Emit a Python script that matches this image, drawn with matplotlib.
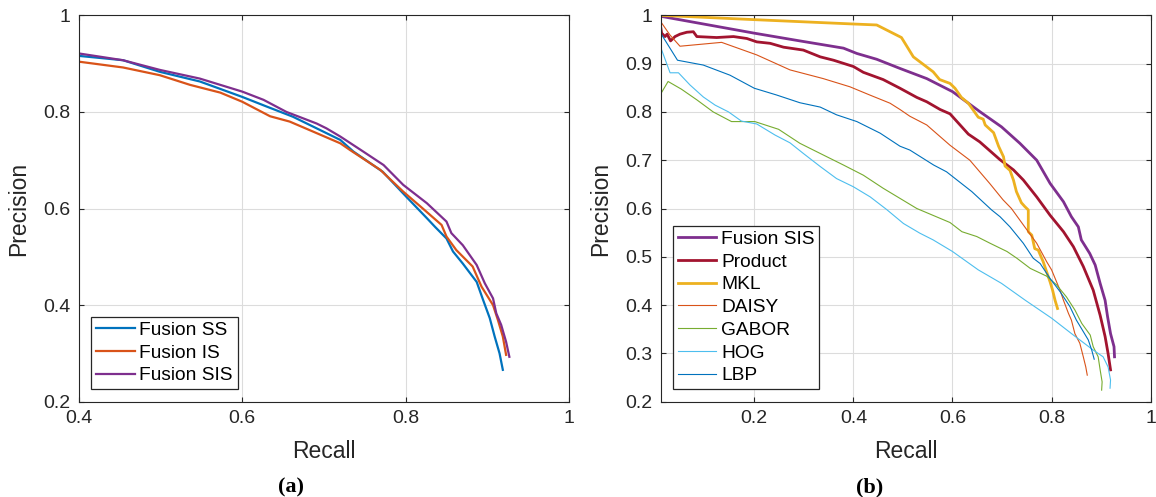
import matplotlib
matplotlib.use("Agg")
import matplotlib.pyplot as plt

# ---- panel (a) data ----
ss_recall = [0.400, 0.454, 0.499, 0.548, 0.600, 0.630, 0.662, 0.691, 0.720, 0.736, 0.772,
             0.801, 0.826, 0.836, 0.850, 0.858, 0.870, 0.887, 0.895, 0.903, 0.909, 0.915, 0.919]
ss_prec = [0.916, 0.907, 0.883, 0.863, 0.831, 0.811, 0.790, 0.766, 0.742, 0.718, 0.676,
           0.624, 0.580, 0.562, 0.538, 0.511, 0.486, 0.448, 0.410, 0.373, 0.335, 0.300, 0.266]

is_recall = [0.400, 0.454, 0.499, 0.536, 0.573, 0.600, 0.634, 0.658, 0.687, 0.720, 0.732,
             0.769, 0.797, 0.821, 0.844, 0.850, 0.862, 0.882, 0.893, 0.907, 0.913, 0.919, 0.923]
is_prec = [0.904, 0.892, 0.876, 0.856, 0.840, 0.821, 0.791, 0.780, 0.759, 0.735, 0.721,
           0.680, 0.635, 0.600, 0.566, 0.542, 0.514, 0.480, 0.438, 0.400, 0.369, 0.335, 0.297]

sis_recall = [0.400, 0.454, 0.499, 0.548, 0.600, 0.626, 0.654, 0.691, 0.703, 0.720, 0.748, 0.773,
              0.797, 0.826, 0.850, 0.856, 0.870, 0.887, 0.897, 0.907, 0.911, 0.917, 0.923, 0.927]
sis_prec = [0.921, 0.907, 0.887, 0.869, 0.842, 0.825, 0.800, 0.776, 0.766, 0.749, 0.718, 0.690,
            0.649, 0.611, 0.573, 0.549, 0.524, 0.483, 0.445, 0.414, 0.383, 0.359, 0.324, 0.293]

# ---- panel (b) data ----
b_sis_recall = [0.011, 0.200, 0.292, 0.380, 0.407, 0.447, 0.494, 0.548, 0.600, 0.656, 0.699, 0.736, 0.770,
                0.797, 0.824, 0.840, 0.854, 0.860, 0.877, 0.888, 0.898, 0.908, 0.913, 0.919, 0.926, 0.927]
b_sis_prec = [0.998, 0.963, 0.947, 0.932, 0.921, 0.909, 0.890, 0.869, 0.842, 0.800, 0.769, 0.735, 0.700,
              0.652, 0.614, 0.583, 0.562, 0.535, 0.507, 0.483, 0.445, 0.410, 0.376, 0.341, 0.314, 0.293]

prod_recall = [0.011, 0.013, 0.020, 0.024, 0.031, 0.040, 0.050, 0.064, 0.077, 0.084, 0.124, 0.158, 0.185,
               0.205, 0.232, 0.259, 0.299, 0.333, 0.360, 0.400, 0.420, 0.460, 0.494, 0.528, 0.548, 0.575,
               0.595, 0.632, 0.655, 0.696, 0.723, 0.743, 0.770, 0.797, 0.824, 0.844, 0.864, 0.884, 0.898,
               0.908, 0.914, 0.919]
prod_prec = [0.976, 0.963, 0.956, 0.961, 0.947, 0.956, 0.961, 0.965, 0.966, 0.956, 0.954, 0.956, 0.952,
             0.945, 0.942, 0.934, 0.928, 0.914, 0.907, 0.894, 0.882, 0.867, 0.849, 0.830, 0.821, 0.805,
             0.796, 0.754, 0.738, 0.701, 0.680, 0.659, 0.624, 0.586, 0.552, 0.521, 0.480, 0.431, 0.379,
             0.335, 0.300, 0.266]

mkl_recall = [0.011, 0.200, 0.400, 0.447, 0.497, 0.521, 0.561, 0.574, 0.595, 0.605, 0.618, 0.632, 0.652,
              0.662, 0.666, 0.683, 0.693, 0.703, 0.706, 0.716, 0.723, 0.729, 0.739, 0.746, 0.753, 0.753,
              0.760, 0.766, 0.773, 0.783, 0.790, 0.797, 0.802, 0.807, 0.812]
mkl_prec = [1.000, 0.991, 0.982, 0.980, 0.954, 0.914, 0.883, 0.867, 0.859, 0.849, 0.830, 0.818, 0.789,
            0.785, 0.773, 0.757, 0.729, 0.707, 0.688, 0.679, 0.659, 0.635, 0.612, 0.604, 0.597, 0.552,
            0.545, 0.517, 0.514, 0.490, 0.469, 0.448, 0.431, 0.410, 0.393]

daisy_recall = [0.011, 0.030, 0.050, 0.134, 0.205, 0.272, 0.339, 0.393, 0.433, 0.474, 0.494, 0.514, 0.548,
                0.595, 0.635, 0.675, 0.702, 0.719, 0.743, 0.770, 0.790, 0.800, 0.817, 0.824, 0.834, 0.840,
                0.847, 0.857, 0.864, 0.869, 0.872]
daisy_prec = [0.987, 0.959, 0.936, 0.944, 0.918, 0.887, 0.869, 0.852, 0.835, 0.818, 0.805, 0.791, 0.773,
              0.731, 0.700, 0.652, 0.618, 0.600, 0.566, 0.528, 0.490, 0.473, 0.431, 0.410, 0.383, 0.369,
              0.341, 0.321, 0.293, 0.272, 0.255]

gabor_recall = [0.011, 0.026, 0.053, 0.084, 0.117, 0.154, 0.201, 0.249, 0.292, 0.333, 0.380, 0.420, 0.460,
                0.494, 0.528, 0.595, 0.619, 0.649, 0.676, 0.710, 0.730, 0.757, 0.790, 0.810, 0.830, 0.847,
                0.861, 0.878, 0.884, 0.894, 0.898, 0.902, 0.901]
gabor_prec = [0.837, 0.863, 0.847, 0.825, 0.800, 0.780, 0.780, 0.764, 0.735, 0.714, 0.690, 0.669, 0.642,
              0.621, 0.600, 0.571, 0.552, 0.542, 0.528, 0.511, 0.497, 0.476, 0.460, 0.442, 0.417, 0.390,
              0.362, 0.338, 0.314, 0.293, 0.266, 0.241, 0.224]

hog_recall = [0.011, 0.030, 0.047, 0.070, 0.097, 0.121, 0.148, 0.174, 0.205, 0.242, 0.272, 0.299, 0.333,
              0.366, 0.400, 0.434, 0.467, 0.501, 0.534, 0.561, 0.600, 0.652, 0.699, 0.747, 0.800, 0.844,
              0.884, 0.904, 0.914, 0.919, 0.918]
hog_prec = [0.934, 0.881, 0.881, 0.856, 0.831, 0.814, 0.800, 0.781, 0.775, 0.752, 0.736, 0.714, 0.687,
            0.662, 0.645, 0.624, 0.598, 0.569, 0.549, 0.535, 0.511, 0.473, 0.445, 0.410, 0.373, 0.338,
            0.307, 0.293, 0.272, 0.245, 0.228]

lbp_recall = [0.011, 0.045, 0.097, 0.151, 0.200, 0.245, 0.292, 0.333, 0.366, 0.407, 0.454, 0.494, 0.514,
              0.562, 0.588, 0.639, 0.679, 0.696, 0.716, 0.743, 0.763, 0.777, 0.797, 0.817, 0.837, 0.850,
              0.860, 0.874, 0.881, 0.886]
lbp_prec = [0.963, 0.907, 0.897, 0.876, 0.849, 0.835, 0.819, 0.810, 0.794, 0.780, 0.756, 0.729, 0.721,
            0.690, 0.676, 0.635, 0.597, 0.583, 0.562, 0.528, 0.497, 0.486, 0.455, 0.428, 0.397, 0.369,
            0.352, 0.328, 0.307, 0.288]

# ticks
a_xticks = [0.4, 0.6, 0.8, 1.0]
a_xlabels = ["0.4", "0.6", "0.8", "1"]
a_yticks = [0.2, 0.4, 0.6, 0.8, 1.0]
a_ylabels = ["0.2", "0.4", "0.6", "0.8", "1"]
b_xticks = [0.2, 0.4, 0.6, 0.8, 1.0]
b_xlabels = ["0.2", "0.4", "0.6", "0.8", "1"]
b_yticks = [0.2, 0.3, 0.4, 0.5, 0.6, 0.7, 0.8, 0.9, 1.0]
b_ylabels = ["0.2", "0.3", "0.4", "0.5", "0.6", "0.7", "0.8", "0.9", "1"]

# MATLAB default colours
BLUE = "#0072BD"
ORANGE = "#D95319"
YELLOW = "#EDB120"
PURPLE = "#7E2F8E"
GREEN = "#77AC30"
LIGHTBLUE = "#4DBEEE"
DARKRED = "#A2142F"
INK = "#262626"
GRID = "#dcdcdc"

plt.rcParams["font.family"] = ["Liberation Sans", "DejaVu Sans"]

fig = plt.figure(figsize=(11.56, 4.97), dpi=100, facecolor="white")
ax_a = fig.add_axes([0.0683, 0.1917, 0.4239, 0.7775])
ax_b = fig.add_axes([0.5715, 0.1917, 0.4239, 0.7775])


def style_axes(ax, xlim, xticks, xlabels, yticks, ylabels):
    ax.set_xlim(*xlim)
    ax.set_ylim(0.2, 1.0)
    ax.set_xticks(xticks)
    ax.set_xticklabels(xlabels)
    ax.set_yticks(yticks)
    ax.set_yticklabels(ylabels)
    ax.grid(True, color=GRID, linewidth=0.8)
    ax.set_axisbelow(True)
    ax.tick_params(direction="in", top=True, right=True, length=3.8, width=0.8,
                   colors=INK, labelsize=14, pad=6)
    for sp in ax.spines.values():
        sp.set_color(INK)
        sp.set_linewidth(0.8)
    ax.set_xlabel("Recall", fontsize=16.5, color=INK)
    ax.set_ylabel("Precision", fontsize=16.5, color=INK)
    ax.xaxis.set_label_coords(0.5, -0.130)
    ax.xaxis.label.set_va("center")
    ax.yaxis.set_label_coords(-0.123, 0.5)
    ax.yaxis.label.set_va("center")


def add_legend(ax):
    leg = ax.legend(loc="lower left", fontsize=13.8, fancybox=False, framealpha=1,
                    edgecolor=INK, borderpad=0.25, labelspacing=0.28, handlelength=2.0,
                    handletextpad=0.25, borderaxespad=0.65)
    leg.get_frame().set_linewidth(0.9)
    for t in leg.get_texts():
        t.set_color("black")


# (a)
style_axes(ax_a, (0.4, 1.0), a_xticks, a_xlabels, a_yticks, a_ylabels)
ax_a.plot(ss_recall, ss_prec, color=BLUE, lw=1.6, label="Fusion SS")
ax_a.plot(is_recall, is_prec, color=ORANGE, lw=1.6, label="Fusion IS")
ax_a.plot(sis_recall, sis_prec, color=PURPLE, lw=1.6, label="Fusion SIS")
add_legend(ax_a)

# (b)
style_axes(ax_b, (0.011, 1.0), b_xticks, b_xlabels, b_yticks, b_ylabels)
ax_b.plot(b_sis_recall, b_sis_prec, color=PURPLE, lw=2.0, label="Fusion SIS")
ax_b.plot(prod_recall, prod_prec, color=DARKRED, lw=2.0, label="Product")
ax_b.plot(mkl_recall, mkl_prec, color=YELLOW, lw=2.0, label="MKL")
ax_b.plot(daisy_recall, daisy_prec, color=ORANGE, lw=0.8, label="DAISY")
ax_b.plot(gabor_recall, gabor_prec, color=GREEN, lw=0.8, label="GABOR")
ax_b.plot(hog_recall, hog_prec, color=LIGHTBLUE, lw=0.8, label="HOG")
ax_b.plot(lbp_recall, lbp_prec, color=BLUE, lw=0.8, label="LBP")
add_legend(ax_b)

# sub-captions
cap_font = dict(family=["Liberation Serif", "DejaVu Serif"], fontweight="bold", fontsize=16,
                ha="center", va="center", color="black")
fig.text(291 / 1156, 1 - 487 / 497, "(a)", **cap_font)
fig.text(870 / 1156, 1 - 487 / 497, "(b)", **cap_font)

fig.savefig("out.png", dpi=100, facecolor="white")
